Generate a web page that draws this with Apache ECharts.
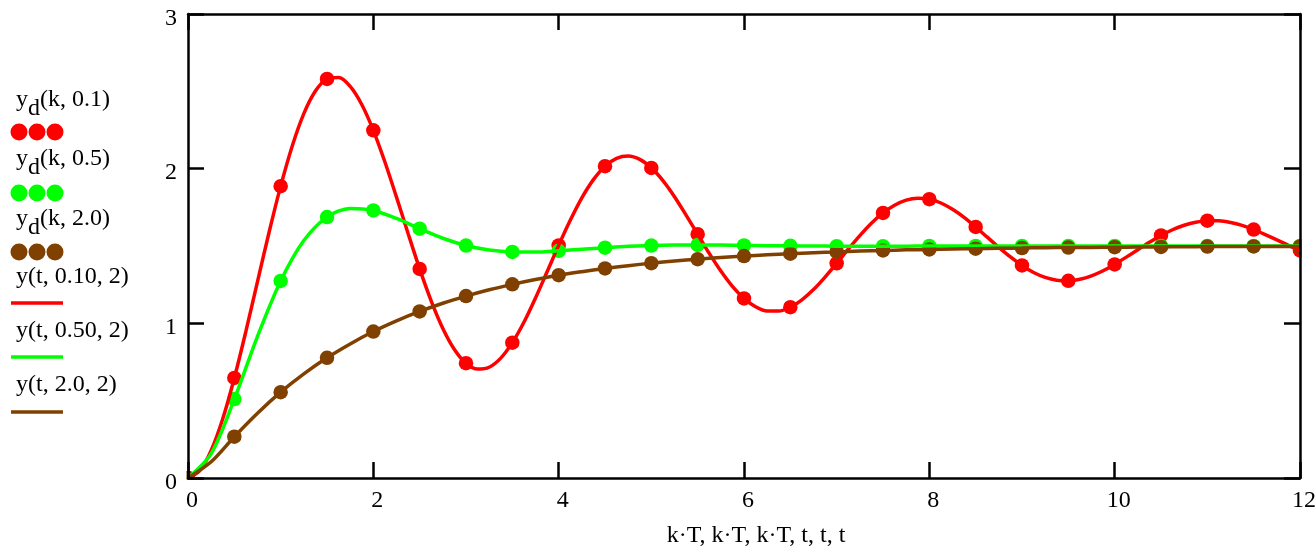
<!DOCTYPE html>
<html>
<head>
<meta charset="utf-8">
<script src="https://cdn.jsdelivr.net/npm/echarts/dist/echarts.min.js"></script>
<style>
html, body { margin: 0; padding: 0; background: #fff; }
#container { width: 1316px; height: 551px; }
</style>
</head>
<body>
<div id="container"></div>
<script>
// sample times k*T (T = 0.5) and curve times t
var tDots = [0, 0.5, 1, 1.5, 2, 2.5, 3, 3.5, 4, 4.5, 5, 5.5, 6, 6.5, 7, 7.5, 8, 8.5, 9, 9.5, 10, 10.5, 11, 11.5, 12];
var tCurve = [0, 0.25, 0.5, 0.75, 1, 1.25, 1.5, 1.75, 2, 2.25, 2.5, 2.75, 3, 3.25, 3.5, 3.75, 4, 4.25, 4.5, 4.75,
	5, 5.25, 5.5, 5.75, 6, 6.25, 6.5, 6.75, 7, 7.25, 7.5, 7.75, 8, 8.25, 8.5, 8.75, 9, 9.25, 9.5, 9.75,
	10, 10.25, 10.5, 10.75, 11, 11.25, 11.5, 11.75, 12];
// the red curve swings a lot, so it is read finer
var tRed = [0, 0.125, 0.25, 0.375, 0.5, 0.625, 0.75, 0.875, 1, 1.125, 1.25, 1.375, 1.5, 1.625, 1.75, 1.875,
	2, 2.125, 2.25, 2.375, 2.5, 2.625, 2.75, 2.875, 3, 3.125, 3.25, 3.375, 3.5, 3.625, 3.75, 3.875,
	4, 4.125, 4.25, 4.375, 4.5, 4.625, 4.75, 4.875, 5, 5.125, 5.25, 5.375, 5.5, 5.625, 5.75, 5.875,
	6, 6.125, 6.25, 6.375, 6.5, 6.625, 6.75, 6.875, 7, 7.125, 7.25, 7.375, 7.5, 7.625, 7.75, 7.875,
	8, 8.125, 8.25, 8.375, 8.5, 8.625, 8.75, 8.875, 9, 9.125, 9.25, 9.375, 9.5, 9.625, 9.75, 9.875,
	10, 10.125, 10.25, 10.375, 10.5, 10.625, 10.75, 10.875, 11, 11.125, 11.25, 11.375, 11.5, 11.625, 11.75, 11.875, 12];

// yd(k, ...) dots
var dots01 = [0, 0.647, 1.887, 2.580, 2.248, 1.352, 0.742, 0.875, 1.504, 2.016, 2.005, 1.576, 1.161, 1.104, 1.388, 1.714, 1.803, 1.623, 1.374, 1.275, 1.381, 1.568, 1.664, 1.606, 1.471];
var dots05 = [0, 0.510, 1.274, 1.687, 1.730, 1.612, 1.503, 1.462, 1.469, 1.489, 1.503, 1.507, 1.504, 1.501, 1.499, 1.499, 1.500, 1.5, 1.5, 1.5, 1.5, 1.5, 1.5, 1.5, 1.5];
var dots20 = [0, 0.267, 0.555, 0.777, 0.947, 1.077, 1.176, 1.252, 1.311, 1.355, 1.389, 1.415, 1.435, 1.450, 1.462, 1.471, 1.478, 1.483, 1.487, 1.490, 1.492, 1.494, 1.496, 1.497, 1.497];

// y(t, ..., 2) curves
var curve01 = [0, 0.046, 0.178, 0.383, 0.647, 0.949, 1.270, 1.589, 1.887, 2.147, 2.356, 2.502, 2.580, 2.589, 2.532, 2.415,
	2.248, 2.043, 1.816, 1.581, 1.352, 1.144, 0.967, 0.831, 0.742, 0.704, 0.716, 0.775, 0.875, 1.007, 1.164, 1.333,
	1.504, 1.666, 1.811, 1.929, 2.016, 2.067, 2.082, 2.060, 2.005, 1.923, 1.819, 1.700, 1.576, 1.452, 1.338, 1.239,
	1.161, 1.107, 1.079, 1.079, 1.104, 1.152, 1.218, 1.299, 1.388, 1.479, 1.567, 1.647, 1.714, 1.764, 1.797, 1.809,
	1.803, 1.778, 1.737, 1.685, 1.623, 1.557, 1.491, 1.429, 1.374, 1.329, 1.297, 1.279, 1.275, 1.285, 1.307, 1.340,
	1.381, 1.428, 1.476, 1.524, 1.568, 1.605, 1.634, 1.654, 1.664, 1.663, 1.652, 1.633, 1.606, 1.574, 1.540, 1.504, 1.471];
var curve05 = [0, 0.157, 0.510, 0.916, 1.274, 1.535, 1.687, 1.743, 1.730, 1.678, 1.612, 1.550, 1.503, 1.474, 1.462, 1.461,
	1.469, 1.479, 1.489, 1.498, 1.503, 1.506, 1.507, 1.506, 1.504, 1.502, 1.501, 1.500, 1.499, 1.499, 1.499, 1.499,
	1.500, 1.5, 1.5, 1.5, 1.5, 1.5, 1.5, 1.5, 1.5, 1.5, 1.5, 1.5, 1.5, 1.5, 1.5, 1.5, 1.5];
var curve20 = [0, 0.105, 0.267, 0.419, 0.555, 0.673, 0.777, 0.867, 0.947, 1.016, 1.077, 1.130, 1.176, 1.217, 1.252, 1.283,
	1.311, 1.334, 1.355, 1.373, 1.389, 1.403, 1.415, 1.426, 1.435, 1.443, 1.450, 1.457, 1.462, 1.467, 1.471, 1.475,
	1.478, 1.481, 1.483, 1.485, 1.487, 1.489, 1.490, 1.491, 1.492, 1.493, 1.494, 1.495, 1.496, 1.496, 1.497, 1.497, 1.497];

var xTicks = [0, 2, 4, 6, 8, 10, 12];
var yTicks = [0, 1, 2, 3];

var RED = '#ff0000', GREEN = '#00ff00', BROWN = '#804000';
var FONT = '"Liberation Serif", "DejaVu Serif", serif';
var FS = 24;

function pairs(xs, ys) {
	var out = [];
	for (var i = 0; i < xs.length; i++) out.push([xs[i], ys[i]]);
	return out;
}

function dotSeries(ys, color) {
	return { type: 'scatter', data: pairs(tDots, ys), symbol: 'circle', symbolSize: 14.5,
		itemStyle: { color: color, opacity: 1 }, silent: true };
}
function lineSeries(xs, ys, color) {
	return { type: 'line', data: pairs(xs, ys), smooth: 0.3, showSymbol: false,
		lineStyle: { color: color, width: 3.5 }, silent: true };
}

// legend on the left, Mathcad style
function txt(str, x, y) {
	return { type: 'text', x: x, y: y, z: 20,
		style: { text: str, fontFamily: FONT, fontSize: FS, fill: '#000', verticalAlign: 'middle', align: 'left' } };
}
function legSub(args, y) {
	// y, subscript d, then the arguments
	return [txt('y', 16, y), txt('d', 28, y + 9), txt(args, 40, y)];
}
function legDots(color, y) {
	var g = [];
	[19, 37, 55].forEach(function (cx) {
		g.push({ type: 'circle', z: 20, shape: { cx: cx, cy: y, r: 8.5 }, style: { fill: color } });
	});
	return g;
}
function legLine(color, y) {
	return { type: 'line', z: 20, shape: { x1: 11, y1: y, x2: 63, y2: y }, style: { stroke: color, lineWidth: 3.5 } };
}

var graphics = [
	// masks so dots on the frame look clipped
	{ type: 'rect', z: 5, shape: { x: 1301.5, y: 0, width: 20, height: 551 }, style: { fill: '#fff' } },
	{ type: 'rect', z: 5, shape: { x: 160, y: 440, width: 26.5, height: 60 }, style: { fill: '#fff' } },
	{ type: 'rect', z: 5, shape: { x: 160, y: 479.5, width: 80, height: 30 }, style: { fill: '#fff' } },
	txt('y(t, 0.10, 2)', 16, 277),
	txt('y(t, 0.50, 2)', 16, 331),
	txt('y(t, 2.0, 2)', 16, 385),
	legLine(RED, 303),
	legLine(GREEN, 357),
	legLine(BROWN, 412)
].concat(legSub('(k, 0.1)', 100), legSub('(k, 0.5)', 159), legSub('(k, 2.0)', 219),
	legDots(RED, 132), legDots(GREEN, 193), legDots(BROWN, 252));

var axisLine = { show: true, onZero: false, lineStyle: { color: '#000', width: 2.5 } };
var axisTick = { show: true, inside: true, length: 16, lineStyle: { color: '#000', width: 2.5 } };

var myChart = echarts.init(document.getElementById('container'));
myChart.setOption({
	animation: false,
	backgroundColor: '#fff',
	grid: { left: 188, right: 16, top: 14, bottom: 73, containLabel: false, outerBoundsMode: 'none' },
	xAxis: [{
		type: 'value', min: xTicks[0], max: xTicks[xTicks.length - 1], interval: 2, z: 10,
		name: 'k·T, k·T, k·T, t, t, t', nameLocation: 'middle', nameGap: 46,
		nameTextStyle: { fontFamily: FONT, fontSize: FS, color: '#000', padding: [0, 0, 0, 24] },
		axisLine: axisLine, axisTick: axisTick, splitLine: { show: false },
		axisLabel: { fontFamily: FONT, fontSize: FS, color: '#000', margin: 11, padding: [0, 0, 0, 8] }
	}, {
		type: 'value', position: 'top', min: xTicks[0], max: xTicks[xTicks.length - 1], interval: 2, z: 10,
		axisLine: axisLine, axisTick: axisTick, splitLine: { show: false }, axisLabel: { show: false }
	}],
	yAxis: [{
		type: 'value', min: yTicks[0], max: yTicks[yTicks.length - 1], interval: 1, z: 10,
		axisLine: axisLine, axisTick: axisTick, splitLine: { show: false },
		axisLabel: { fontFamily: FONT, fontSize: FS, color: '#000', margin: 11, verticalAlign: 'top', lineHeight: 9 }
	}, {
		type: 'value', position: 'right', min: yTicks[0], max: yTicks[yTicks.length - 1], interval: 1, z: 10,
		axisLine: axisLine, axisTick: axisTick, splitLine: { show: false }, axisLabel: { show: false }
	}],
	graphic: graphics,
	series: [
		dotSeries(dots01, RED),
		dotSeries(dots05, GREEN),
		dotSeries(dots20, BROWN),
		lineSeries(tRed, curve01, RED),
		lineSeries(tCurve, curve05, GREEN),
		lineSeries(tCurve, curve20, BROWN)
	]
});
</script>
</body>
</html>
